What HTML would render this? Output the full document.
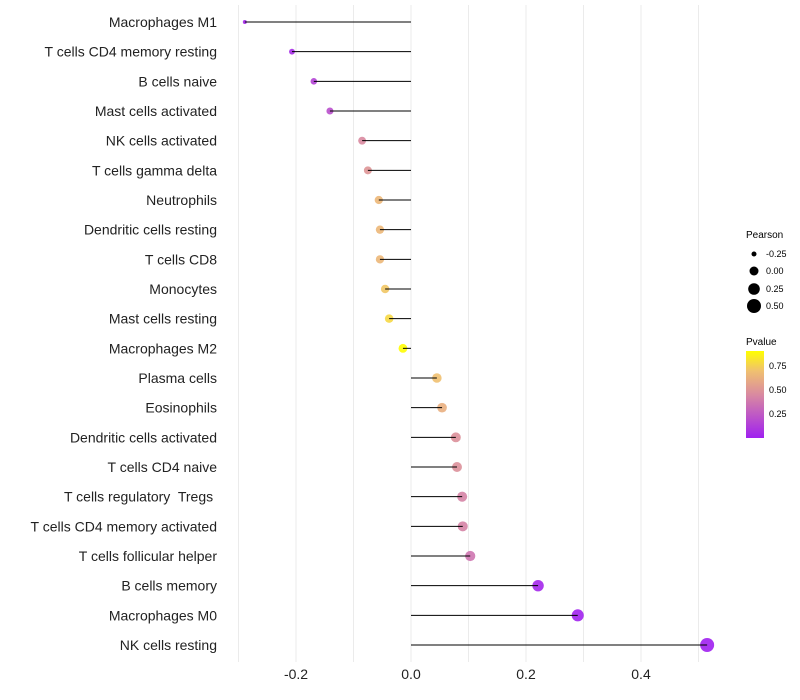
<!DOCTYPE html>
<html><head><meta charset="utf-8"><style>body{margin:0;background:#fff}svg{display:block;font-family:"Liberation Sans",sans-serif}</style></head>
<body>
<svg id="chart" width="800" height="700">
<defs><linearGradient id="pg" x1="0" y1="1" x2="0" y2="0">
<stop offset="0" stop-color="#a020f0"/><stop offset="0.5" stop-color="#d98aa0"/><stop offset="0.77" stop-color="#f0c070"/><stop offset="1" stop-color="#ffff00"/></linearGradient></defs>
<g id="grid"></g><g id="pts"></g><g id="marks"></g><g id="labels"></g>
<g font-size="9" fill="#000">
<text x="746" y="238" font-size="10">Pearson</text>
<circle cx="754" cy="254" r="2.5"/><text x="766" y="257">-0.25</text>
<circle cx="754" cy="271" r="4.5"/><text x="766" y="274">0.00</text>
<circle cx="754" cy="289" r="5.8"/><text x="766" y="292">0.25</text>
<circle cx="754" cy="306" r="7"/><text x="766" y="309">0.50</text>
<text x="746" y="345" font-size="10">Pvalue</text>
<rect x="746" y="351" width="18" height="87" fill="url(#pg)"/>
<text x="769" y="369">0.75</text><text x="769" y="393">0.50</text><text x="769" y="417">0.25</text>
</g>
</svg>
<script>
const cells=["Macrophages M1","T cells CD4 memory resting","B cells naive","Mast cells activated","NK cells activated","T cells gamma delta","Neutrophils","Dendritic cells resting","T cells CD8","Monocytes","Mast cells resting","Macrophages M2","Plasma cells","Eosinophils","Dendritic cells activated","T cells CD4 naive","T cells regulatory  Tregs ","T cells CD4 memory activated","T cells follicular helper","B cells memory","Macrophages M0","NK cells resting"];
const pearson=[-0.289,-0.207,-0.169,-0.141,-0.085,-0.075,-0.056,-0.054,-0.054,-0.045,-0.038,-0.014,0.045,0.054,0.078,0.08,0.089,0.09,0.103,0.221,0.29,0.515];
const pvalue=[0.03,0.05,0.15,0.2,0.45,0.5,0.66,0.66,0.66,0.72,0.78,0.9,0.7,0.62,0.48,0.48,0.42,0.42,0.36,0.03,0.01,0.0];
const xTicks=[-0.2,0,0.2,0.4];
const xTickLabels=["-0.2","0.0","0.2","0.4"];
const NS="http://www.w3.org/2000/svg";
const X=v=>411+v*575, Y=i=>22+i*29.667;
const R=v=>Math.sqrt(Math.max(1,20.2+56*v));
function lerp(a,b,t){return a.map((x,k)=>Math.round(x+(b[k]-x)*t));}
const stops=[[0,[160,32,240]],[0.45,[217,138,160]],[0.7,[240,192,112]],[0.906,[255,255,0]]];
function col(p){for(let k=0;k<stops.length-1;k++){if(p<=stops[k+1][0]){const t=Math.max(0,(p-stops[k][0])/(stops[k+1][0]-stops[k][0]));return "rgb("+lerp(stops[k][1],stops[k+1][1],t)+")";}}return "rgb(255,255,0)";}
function mk(tag,at,par){const e=document.createElementNS(NS,tag);for(const k in at)e.setAttribute(k,at[k]);document.getElementById(par).appendChild(e);return e;}
for(let g=-0.3;g<=0.55;g+=0.1){const l=mk("line",{x1:X(g),x2:X(g),y1:5,y2:662,stroke:"#ebebeb","stroke-width":1},"grid");

}
xTicks.forEach((t,i)=>{const e=mk("text",{x:X(t),y:679,"text-anchor":"middle","font-size":14,fill:"#222"},"labels");e.textContent=xTickLabels[i];

});
cells.forEach((c,i)=>{
const p=mk("circle",{cx:X(pearson[i]),cy:Y(i),r:R(pearson[i]),fill:col(pvalue[i]),"fill-opacity":0.9},"pts");


const l=mk("line",{x1:X(0),x2:X(pearson[i]),y1:Y(i),y2:Y(i),stroke:"#000","stroke-width":1},"marks");


const t=mk("text",{x:217,y:Y(i)+5,"text-anchor":"end","font-size":14,fill:"#222","xml:space":"preserve",style:"white-space:pre"},"labels");
t.textContent=c;


});
</script>
</body></html>
